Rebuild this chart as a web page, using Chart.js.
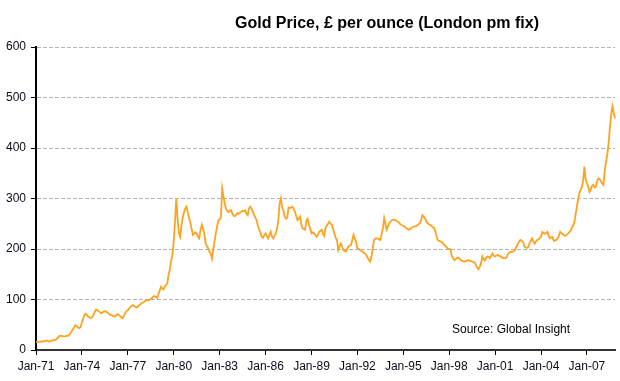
<!DOCTYPE html>
<html>
<head>
<meta charset="utf-8">
<script src="https://cdn.jsdelivr.net/npm/chart.js@4.4.1/dist/chart.umd.min.js"></script>
<style>
  html, body { margin: 0; padding: 0; background: #ffffff; }
  #wrap { width: 620px; height: 381px; }
</style>
</head>
<body>
<div id="wrap"><canvas id="c" width="620" height="381"></canvas></div>
<script>
// ---- Data (monthly average gold price, GBP per ounce, from Jan-71) ----
const chartTitle = "Gold Price, £ per ounce (London pm fix)";
const sourceNote = "Source: Global Insight";
const startYear = 1971;
const monthNames = ["Jan","Feb","Mar","Apr","May","Jun","Jul","Aug","Sep","Oct","Nov","Dec"];
const tickLabels = ["Jan-71","Jan-74","Jan-77","Jan-80","Jan-83","Jan-86","Jan-89","Jan-92","Jan-95","Jan-98","Jan-01","Jan-04","Jan-07"];
const yTicks = [0, 100, 200, 300, 400, 500, 600];

const goldPrice = [
  16,16,16,16.5,16.5,17,17,18,19,18,17,17,            // 1971
  18,19,19,20,21,24,27,28,28,27,27,27,                // 1972
  28,28,30,33,37,41,45,49,47,44,43,46,                // 1973
  55,62,70,72,69,66,65,63,65,69,75,80,                // 1974
  79,77,75,73,74,76,77,76,74,72,70,69,                // 1975
  68,67,66,69,71,69,67,64,63,68,73,77,                // 1976
  79,82,85,87,89,87,85,84,86,89,91,93,                // 1977
  94,96,98,99,98,100,101,103,106,107,105,103,         // 1978
  110,118,125,122,120,126,129,132,150,160,178,188,    // 1979
  215,255,300,262,232,224,245,262,272,280,284,272,    // 1980
  262,252,240,228,230,233,231,224,221,238,248,240,    // 1981
  230,211,206,201,195,191,181,200,215,231,245,257,    // 1982
  258,263,320,304,290,280,275,273,276,277,270,266,    // 1983
  265,268,271,270,272,274,276,275,277,270,267,280,    // 1984
  284,280,274,267,262,257,246,238,232,224,222,228,    // 1985
  231,226,221,228,234,225,221,226,231,240,257,290,    // 1986
  300,282,277,264,260,262,282,281,282,284,280,274,    // 1987
  266,257,260,264,250,241,239,238,256,260,248,240,    // 1988
  231,233,231,228,224,228,234,236,238,230,226,242,    // 1989
  246,250,254,250,248,238,231,222,218,198,205,211,    // 1990
  205,198,196,195,200,205,207,208,218,228,220,214,    // 1991
  201,200,198,196,195,193,191,188,183,178,175,185,    // 1992
  200,218,220,221,221,219,218,230,241,261,250,238,    // 1993
  245,251,254,257,258,258,257,255,254,251,248,247,    // 1994
  246,244,242,240,238,239,241,243,244,245,245,247,    // 1995
  249,251,257,267,264,261,255,251,249,248,246,243,    // 1996
  242,236,226,218,216,215,214,211,208,206,203,201,    // 1997
  200,199,186,182,178,180,182,183,181,178,177,176,    // 1998
  175,176,177,178,177,176,175,174,173,168,163,160,    // 1999
  165,172,185,180,177,183,185,184,182,187,191,186,    // 2000
  185,187,188,187,186,184,182,182,182,183,190,192,    // 2001
  195,194,195,196,201,206,211,216,218,216,214,205,    // 2002
  203,202,204,211,216,221,215,211,215,218,219,222,    // 2003
  224,234,232,230,232,234,226,221,223,224,216,217,    // 2004
  218,221,226,234,231,230,227,226,228,230,233,236,    // 2005
  241,246,251,267,282,297,310,317,322,335,363,338,    // 2006
  330,323,313,318,325,327,322,323,335,340,338,334,    // 2007
  330,327,356,372,389,410,440,465,483,470,459         // 2008
];

// category labels (one per month)
const categories = goldPrice.map((_, i) => {
  const yr = (startYear + Math.floor(i / 12)) % 100;
  return monthNames[i % 12] + "-" + String(yr).padStart(2, "0");
});

const FONT = '"Liberation Sans", Arial, sans-serif';

const textPlugin = {
  id: 'textPlugin',
  afterDraw(chart) {
    const ctx = chart.ctx;
    ctx.save();
    ctx.fillStyle = '#000000';
    ctx.textBaseline = 'alphabetic';
    ctx.textAlign = 'center';
    ctx.font = 'bold 16px ' + FONT;
    ctx.fillText(chartTitle, 387, 28);
    ctx.textAlign = 'left';
    ctx.font = '12px ' + FONT;
    ctx.fillText(sourceNote, 452, 333);
    ctx.restore();
  }
};

new Chart(document.getElementById('c'), {
  type: 'line',
  data: {
    labels: categories,
    datasets: [{
      data: goldPrice,
      borderColor: '#FFA21E',
      borderWidth: 1.8,
      pointRadius: 0,
      tension: 0,
      fill: false
    }]
  },
  options: {
    responsive: false,
    animation: false,
    events: [],
    layout: { padding: { left: 0, right: 5, top: 47, bottom: 0 } },
    plugins: {
      legend: { display: false },
      title: { display: false },
      tooltip: { enabled: false }
    },
    scales: {
      x: {
        type: 'category',
        offset: false,
        grid: { display: true, drawOnChartArea: false, drawTicks: true, tickLength: 5, tickColor: '#000000', tickWidth: 1 },
        border: { display: true, color: '#333333', width: 2 },
        ticks: {
          autoSkip: false, maxRotation: 0, minRotation: 0, padding: 4,
          color: '#0a0a1a', font: { family: FONT, size: 12 },
          callback: function (value) {
            const lab = this.getLabelForValue(value);
            return tickLabels.includes(lab) ? lab : '';
          }
        },
        afterBuildTicks: (s) => { s.ticks = s.ticks.filter(t => tickLabels.includes(categories[t.value])); },
        afterFit: (s) => { s.height = 31; }
      },
      y: {
        min: yTicks[0],
        max: yTicks[yTicks.length - 1],
        afterBuildTicks: (s) => { s.ticks = yTicks.map(v => ({ value: v })); },
        ticks: { padding: 5, color: '#0a0a1a', font: { family: FONT, size: 12 } },
        grid: { color: '#b4b4b4', lineWidth: 1, tickLength: 5, tickColor: '#000000', tickWidth: 1 },
        border: { display: true, color: '#000000', width: 2, dash: [4, 2] },
        afterFit: (s) => { s.width = 36; }
      }
    }
  },
  plugins: [textPlugin]
});
</script>
</body>
</html>
